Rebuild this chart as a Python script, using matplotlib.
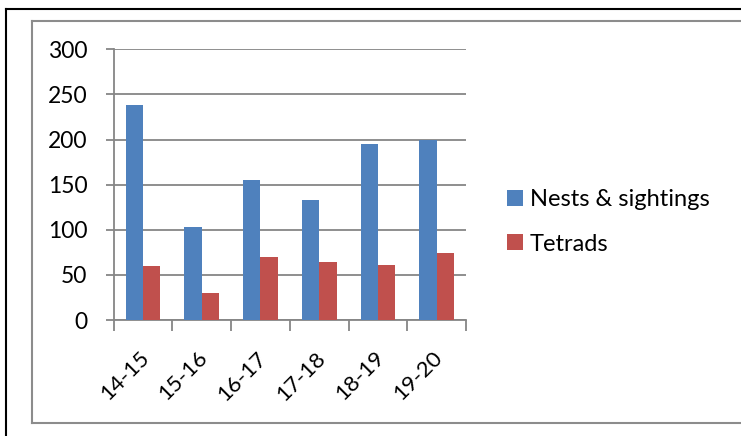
import matplotlib
matplotlib.use("Agg")
import matplotlib.pyplot as plt
from matplotlib.lines import Line2D
import numpy as np

categories = ["14-15", "15-16", "16-17", "17-18", "18-19", "19-20"]
nests = [238, 103, 155, 133, 195, 200]
tetrads = [60, 30, 70, 64, 61, 74]
yticks = [0, 50, 100, 150, 200, 250, 300]

plt.rcParams['font.family'] = ['Lato', 'DejaVu Sans']

W, H = 741, 436
fig = plt.figure(figsize=(W/100, H/100), dpi=100)

def fx(px): return px / W
def fy(py): return 1 - py / H

# outer black frame (top and left)
fig.add_artist(Line2D([fx(6), fx(741)], [fy(9), fy(9)], color='black', lw=1.5))
fig.add_artist(Line2D([fx(6), fx(6)], [fy(9), fy(436)], color='black', lw=1.5))
# inner gray frame
gray = '#8c8c8c'
fig.add_artist(Line2D([fx(32), fx(741)], [fy(21), fy(21)], color=gray, lw=1.5))
fig.add_artist(Line2D([fx(32), fx(32)], [fy(21), fy(423)], color=gray, lw=1.5))
fig.add_artist(Line2D([fx(32), fx(741)], [fy(423), fy(423)], color=gray, lw=1.5))

left, right, top, bottom = 113.7, 466, 49.3, 320
ax = fig.add_axes([fx(left), fy(bottom), fx(right - left), (bottom - top) / H])

x = np.arange(len(categories))
bw = 0.295
b1 = ax.bar(x - bw/2, nests, bw, color='#4F81BD', label='Nests & sightings', zorder=3)
b2 = ax.bar(x + bw/2, tetrads, bw, color='#C0504D', label='Tetrads', zorder=3)

FS = 16.5
ax.set_xlim(-0.5, len(categories) - 0.5)
ax.set_ylim(0, 300)
ax.set_yticks(yticks)
ax.set_yticklabels([str(v) for v in yticks], fontsize=FS)
ax.yaxis.grid(True, color='#868686', lw=1.3, zorder=0)
ax.set_axisbelow(True)

ax.set_xticks(np.arange(len(categories) + 1) - 0.5, minor=False)
ax.set_xticklabels([])
ax.tick_params(axis='x', which='major', length=8, color='#868686', width=1.3)
ax.tick_params(axis='y', length=6, color='#868686', width=1.3, pad=13)
for i, c in enumerate(categories):
    ax.annotate(c, xy=(i, 0), xycoords=('data', 'axes fraction'),
                xytext=(-3, -20), textcoords='offset points',
                rotation=45, ha='right', va='top', rotation_mode='anchor',
                fontsize=16)

for s in ['top', 'right']:
    ax.spines[s].set_visible(False)
for s in ['left', 'bottom']:
    ax.spines[s].set_color('#868686')
    ax.spines[s].set_linewidth(1.3)

leg = fig.legend(handles=[b1, b2], loc='upper left',
                 bbox_to_anchor=(fx(507), fy(189)), frameon=False,
                 fontsize=17, handlelength=0.68, handleheight=0.68,
                 handletextpad=0.28, labelspacing=1.0, borderpad=0,
                 borderaxespad=0)

fig.savefig('out.png', dpi=100)
